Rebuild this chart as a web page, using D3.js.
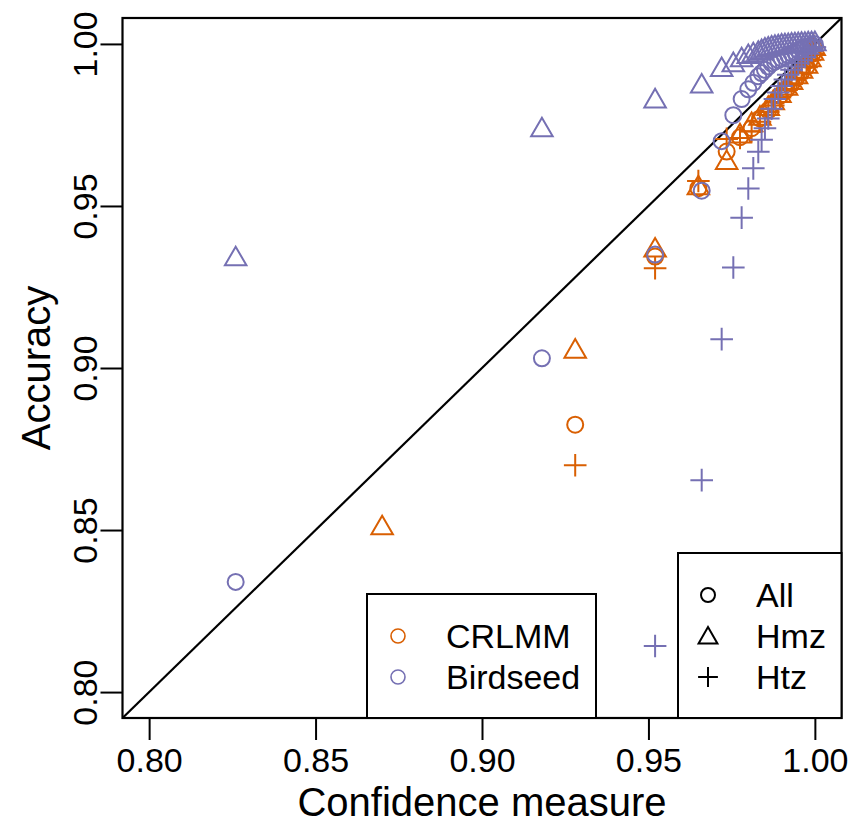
<!DOCTYPE html>
<html>
<head>
<meta charset="utf-8">
<script src="https://cdn.jsdelivr.net/npm/d3@7"></script>
<style>
  html, body { margin: 0; padding: 0; background: #fff; }
  svg { display: block; }
  text { font-family: "Liberation Sans", Arial, Helvetica, sans-serif; fill: #000; }
</style>
</head>
<body>
<svg id="chart" width="851" height="829"></svg>
<script>
// ---------------- data ----------------
const xTicks = [0.80, 0.85, 0.90, 0.95, 1.00];
const yTicks = [0.80, 0.85, 0.90, 0.95, 1.00];
const methods = ["CRLMM", "Birdseed"];
const methodColors = ["#D95F02", "#7570B3"];
const groups = ["All", "Hmz", "Htz"];

// CRLMM: confidence thresholds and accuracy per genotype group
const crlmmConf = [0.870, 0.928, 0.952, 0.965, 0.9735, 0.9775, 0.981, 0.9835, 0.986, 0.9875, 0.9895, 0.9915, 0.993, 0.9945, 0.996, 0.9975, 0.9985, 0.9993, 0.9998];
const crlmmAll  = [null, 0.8825, 0.9344, 0.9555, 0.9668, 0.9712, 0.974, 0.977, 0.9795, 0.9815, 0.984, 0.986, 0.9878, 0.9896, 0.9913, 0.993, 0.995, 0.997, 0.9988];
const crlmmHmz  = [0.8506, 0.9051, 0.9363, 0.9555, 0.9633, 0.9715, 0.975, 0.977, 0.980, 0.9818, 0.984, 0.9862, 0.988, 0.9898, 0.9915, 0.993, 0.995, 0.997, 0.9985];
const crlmmHtz  = [null, 0.870, 0.9308, 0.9577, 0.9707, 0.971, 0.973, 0.976, 0.979, 0.981, 0.9835, 0.9858, 0.9876, 0.9894, 0.9911, 0.9928, 0.995, 0.997, 0.999];

// Birdseed
const birdConf = [0.826, 0.918, 0.952, 0.966, 0.972, 0.9755, 0.978, 0.980, 0.9815, 0.983, 0.984, 0.985, 0.986, 0.987, 0.988, 0.989, 0.990, 0.991, 0.992, 0.993, 0.994, 0.995, 0.996, 0.997, 0.998, 0.999, 1.000];
const birdAll   = [0.834, 0.903, 0.935, 0.9547, 0.9700, 0.978, 0.983, 0.986, 0.988, 0.990, 0.991, 0.992, 0.993, 0.994, 0.9945, 0.995, 0.9955, 0.996, 0.9965, 0.997, 0.9975, 0.998, 0.9985, 0.999, 0.9993, 0.9996, 0.9999];
const birdHmz   = [0.9336, 0.9734, 0.9823, 0.9869, 0.992, 0.9935, 0.995, 0.996, 0.9965, 0.997, 0.9975, 0.998, 0.9983, 0.9986, 0.9988, 0.999, 0.9992, 0.9993, 0.9994, 0.9995, 0.9996, 0.9997, 0.9998, 0.9998, 0.9999, 0.9999, 1.000];
const birdHtz   = [null, null, 0.8142, 0.8654, 0.9089, 0.931, 0.9464, 0.9554, 0.9616, 0.9667, 0.9704, 0.974, 0.977, 0.980, 0.983, 0.985, 0.987, 0.989, 0.9905, 0.992, 0.993, 0.994, 0.995, 0.996, 0.997, 0.998, 0.999];

// ---------------- layout ----------------
const svg = d3.select("#chart");
const x = d3.scaleLinear().domain([0.792, 1.008]).range([122.5, 841.5]);
const y = d3.scaleLinear().domain([0.792, 1.008]).range([718, 18]);
const R = 8;

const series = [
  {m: 0, g: 0, conf: crlmmConf, acc: crlmmAll},
  {m: 0, g: 1, conf: crlmmConf, acc: crlmmHmz},
  {m: 0, g: 2, conf: crlmmConf, acc: crlmmHtz},
  {m: 1, g: 0, conf: birdConf, acc: birdAll},
  {m: 1, g: 1, conf: birdConf, acc: birdHmz},
  {m: 1, g: 2, conf: birdConf, acc: birdHtz}
];

svg.append("defs").append("clipPath").attr("id", "plotclip")
  .append("rect").attr("x", x(0.792)).attr("y", y(1.008))
  .attr("width", x(1.008) - x(0.792)).attr("height", y(0.792) - y(1.008));

// symbol path generators (R pch 1, 2, 3 style)
function symPath(g, r) {
  if (g === 0) {
    return `M${r},0 A${r},${r} 0 1,1 ${-r},0 A${r},${r} 0 1,1 ${r},0 Z`;
  } else if (g === 1) {
    const t0 = 1.555 * r, t1 = 1.347 * r, t2 = 0.778 * r;
    return `M0,${-t0} L${t1},${t2} L${-t1},${t2} Z`;
  } else {
    const h = 1.414 * r;
    return `M${-h},0 L${h},0 M0,${-h} L0,${h}`;
  }
}

const pts = svg.append("g").attr("clip-path", "url(#plotclip)");

// diagonal y = x
pts.append("line")
  .attr("x1", x(0.792)).attr("y1", y(0.792))
  .attr("x2", x(1.008)).attr("y2", y(1.008))
  .attr("stroke", "#000").attr("stroke-width", 2.2);

series.forEach(s => {
  const data = s.conf.map((c, i) => ({c: c, a: s.acc[i]})).filter(d => d.a !== null);
  pts.append("g").selectAll("path").data(data).join("path")
    .attr("transform", d => `translate(${x(d.c)},${y(d.a)})`)
    .attr("d", symPath(s.g, R))
    .attr("fill", "none")
    .attr("stroke", methodColors[s.m])
    .attr("stroke-width", 2);
});

// axes
const xAxis = svg.append("g").attr("transform", `translate(0,${y(0.792)})`)
  .call(d3.axisBottom(x).tickValues(xTicks).tickSize(22).tickPadding(8).tickFormat(d3.format(".2f")));
xAxis.select(".domain").remove();
xAxis.selectAll(".tick line").attr("stroke", "#000").attr("stroke-width", 2);
xAxis.selectAll(".tick text").attr("font-size", 34).attr("font-family", "Liberation Sans, Arial, sans-serif").attr("fill", "#000");

const yAxis = svg.append("g").attr("transform", `translate(${x(0.792)},0)`)
  .call(d3.axisLeft(y).tickValues(yTicks).tickSize(22).tickFormat(d3.format(".2f")));
yAxis.select(".domain").remove();
yAxis.selectAll(".tick line").attr("stroke", "#000").attr("stroke-width", 2);
yAxis.selectAll(".tick text")
  .attr("font-size", 34).attr("font-family", "Liberation Sans, Arial, sans-serif").attr("fill", "#000")
  .attr("x", null).attr("dy", null)
  .attr("text-anchor", "middle")
  .attr("transform", "translate(-26,0) rotate(-90)");

// plot box
svg.append("rect")
  .attr("x", x(0.792)).attr("y", y(1.008))
  .attr("width", x(1.008) - x(0.792)).attr("height", y(0.792) - y(1.008))
  .attr("fill", "none").attr("stroke", "#000").attr("stroke-width", 2.2);

// axis titles
svg.append("text").attr("x", (x(0.792) + x(1.008)) / 2).attr("y", 816)
  .attr("text-anchor", "middle").attr("font-size", 40).text("Confidence measure");
svg.append("text").attr("transform", `translate(50,${(y(0.792) + y(1.008)) / 2}) rotate(-90)`)
  .attr("text-anchor", "middle").attr("font-size", 40).text("Accuracy");

// legend 1: methods
const lg1 = svg.append("g");
lg1.append("rect").attr("x", 367).attr("y", 594).attr("width", 229).attr("height", y(0.792) - 594)
  .attr("fill", "#fff").attr("stroke", "#000").attr("stroke-width", 2);
methods.forEach((m, i) => {
  const cy = 636 + i * 41;
  lg1.append("path").attr("transform", `translate(398,${cy})`).attr("d", symPath(0, 7))
    .attr("fill", "none").attr("stroke", methodColors[i]).attr("stroke-width", 1.6);
  lg1.append("text").attr("x", 446).attr("y", cy + 12).attr("font-size", 34).text(m);
});

// legend 2: groups
const lg2 = svg.append("g");
lg2.append("rect").attr("x", 678).attr("y", 553).attr("width", x(1.008) - 678).attr("height", y(0.792) - 553)
  .attr("fill", "#fff").attr("stroke", "#000").attr("stroke-width", 2);
groups.forEach((g, i) => {
  const cy = 595 + i * 41;
  lg2.append("path").attr("transform", `translate(708,${cy + (i === 1 ? 2 : 0)})`).attr("d", symPath(i, 7))
    .attr("fill", "none").attr("stroke", "#000").attr("stroke-width", 2);
  lg2.append("text").attr("x", 756).attr("y", cy + 12).attr("font-size", 34).text(g);
});
</script>
</body>
</html>
